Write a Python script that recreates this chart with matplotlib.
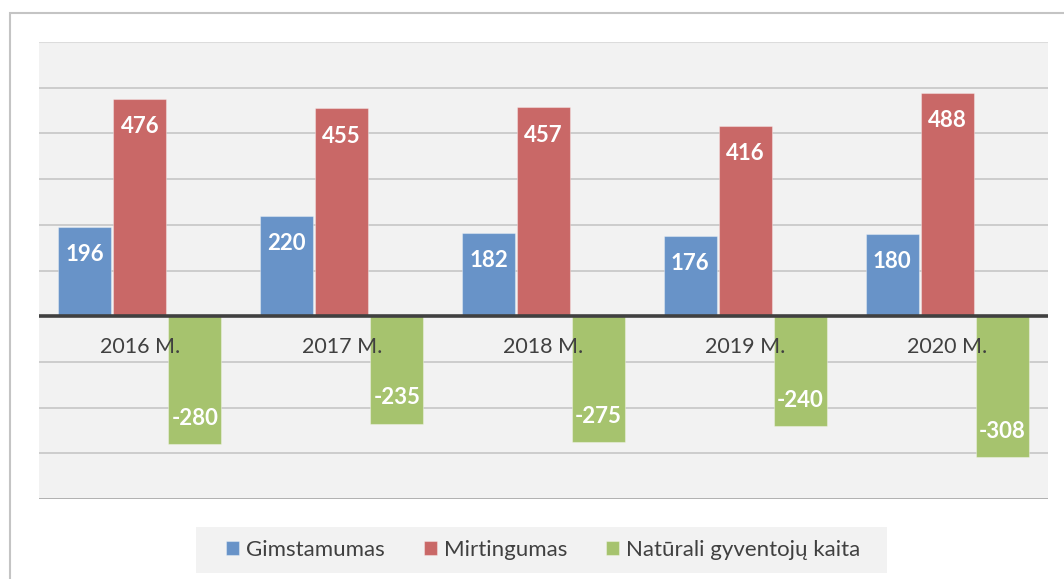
import matplotlib
matplotlib.use('Agg')
import matplotlib.pyplot as plt
from matplotlib.patches import Rectangle
import numpy as np

plt.rcParams['font.family'] = ['Lato', 'DejaVu Sans']

years = ['2016 M.', '2017 M.', '2018 M.', '2019 M.', '2020 M.']
gimstamumas = [196, 220, 182, 176, 180]
mirtingumas = [476, 455, 457, 416, 488]
kaita = [-280, -235, -275, -240, -308]
series_names = ['Gimstamumas', 'Mirtingumas', 'Natūrali gyventojų kaita']
colors = ['#6893c8', '#c96867', '#a6c36e']

W, H = 1064, 579
fig = plt.figure(figsize=(W / 100, H / 100), dpi=100)

# outer chart border (left + top visible, rest cut off)
fig.patches.append(Rectangle((9.5 / W, -0.1), 1.2, 1.1 - 13 / H, transform=fig.transFigure,
                             fill=False, edgecolor='#c4c4c4', lw=1.5))
# legend background box
fig.patches.append(Rectangle((196 / W, 1 - 573 / H), (887 - 196) / W, 46 / H,
                             transform=fig.transFigure, facecolor='#f2f2f2',
                             edgecolor='none'))

ax = fig.add_axes([39 / W, 1 - 499 / H, (1048 - 39) / W, (499 - 42) / H])
ax.set_facecolor('#f2f2f2')
ax.set_xlim(-0.5, 4.5)
ax.set_ylim(-400, 600)

for v in range(-300, 600, 100):
    if v == 0:
        continue
    ax.axhline(v, color='#c3c3c3', lw=1.1, zorder=1)
ax.axhline(600, color='#dcdcdc', lw=1.5, zorder=1)
ax.axhline(-400, color='#a6a6a6', lw=1.2, zorder=1)

x = np.arange(len(years))
w = 0.263
step = 0.2725
data = [gimstamumas, mirtingumas, kaita]
for i, (vals, col, name) in enumerate(zip(data, colors, series_names)):
    bars = ax.bar(x + (i - 1) * step, vals, w, color=col, edgecolor=(1, 1, 1, 0.35),
                  lw=0.8, zorder=2, label=name)
    for b, v in zip(bars, vals):
        off = -20 if v > 0 else 18.5
        ax.annotate(str(v), (b.get_x() + b.get_width() / 2, v), xytext=(0, off),
                    textcoords='offset points', ha='center', va='center',
                    color='white', fontsize=16, fontweight='bold', zorder=3)

ax.axhline(0, color='#404040', lw=2.6, zorder=4)

for xi, lab in zip(x, years):
    ax.annotate(lab, (xi, 0), xytext=(0, -22), textcoords='offset points',
                ha='center', va='center', color='#404040', fontsize=15.5, zorder=3)

ax.set_xticks([])
ax.set_yticks([])
for s in ax.spines.values():
    s.set_visible(False)

leg = fig.legend(loc='center', bbox_to_anchor=(543 / W, 1 - 550 / H), ncol=3,
                 frameon=False, fontsize=16, handlelength=0.6,
                 handleheight=0.6, handletextpad=0.3, columnspacing=1.75,
                 borderpad=0.2, borderaxespad=0)
for t in leg.get_texts():
    t.set_color('#404040')

fig.savefig('out.png', dpi=100)
